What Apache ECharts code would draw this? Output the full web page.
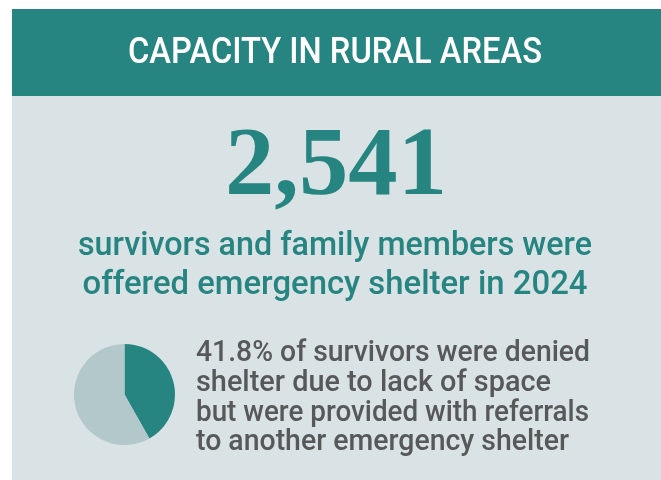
<!DOCTYPE html>
<html>
<head>
<meta charset="utf-8">
<script src="https://cdn.jsdelivr.net/npm/echarts@6/dist/echarts.min.js"></script>
<style>
  html, body { margin: 0; padding: 0; background: #ffffff; }
  #chart { width: 661px; height: 480px; }
</style>
</head>
<body>
<div id="chart"></div>
<script>
// Share of survivors denied shelter (with referral) vs. the rest
const sliceNames = ['Denied shelter, referred', 'Other survivors'];
const sliceValues = [41.8, 58.2];

const titleText = 'CAPACITY IN RURAL AREAS';
const headlineNumber = '2,541';
const subtitleLines = ['survivors and family members were', 'offered emergency shelter in 2024'];
const noteLines = [
  '41.8% of survivors were denied',
  'shelter due to lack of space',
  'but were provided with referrals',
  'to another emergency shelter'
];

const TEAL = '#268481';
const PANEL = '#d9e2e4';
const LIGHT = '#b2c8cb';
const GREY = '#57585a';
const SANS = 'Roboto, "Liberation Sans", sans-serif';
const SERIF = '"Liberation Serif", "DejaVu Serif", serif';

// Horizontal squeeze so a line of text spans a given width (condensed look)
const measureCtx = document.createElement('canvas').getContext('2d');
function squeeze(text, weight, size, family, width) {
  measureCtx.font = weight + ' ' + size + 'px ' + family;
  return width / measureCtx.measureText(text).width;
}

function textEl(text, opts) {
  const sx = squeeze(text, opts.weight, opts.size, opts.family, opts.width);
  return {
    type: 'text',
    x: opts.x,
    y: opts.y,
    scaleX: sx,
    z: 100,
    style: {
      text: text,
      fill: opts.color,
      font: opts.weight + ' ' + opts.size + 'px ' + opts.family,
      align: opts.align,
      verticalAlign: 'middle'
    }
  };
}

const chart = echarts.init(document.getElementById('chart'), null, { renderer: 'canvas' });

const graphics = [
  { type: 'rect', z: 0, shape: { x: 12, y: 9, width: 649, height: 87 }, style: { fill: TEAL } },
  { type: 'rect', z: 0, shape: { x: 12, y: 96, width: 649, height: 384 }, style: { fill: PANEL } },
  textEl(titleText, { x: 335, y: 54, weight: 500, size: 36, family: SANS, width: 414, color: '#ffffff', align: 'center' }),
  textEl(headlineNumber, { x: 336, y: 169, weight: 'bold', size: 97, family: SERIF, width: 222, color: TEAL, align: 'center' })
];

const subY = [247, 286];
const subW = [514, 505];
subtitleLines.forEach(function (line, i) {
  graphics.push(textEl(line, { x: 335, y: subY[i], weight: 500, size: 33, family: SANS, width: subW[i], color: TEAL, align: 'center' }));
});

const noteY = [354, 384, 414, 443];
const noteW = [394, 355, 393, 373];
noteLines.forEach(function (line, i) {
  graphics.push(textEl(line, { x: 196, y: noteY[i], weight: 500, size: 29, family: SANS, width: noteW[i], color: GREY, align: 'left' }));
});

chart.setOption({
  backgroundColor: '#ffffff',
  animation: false,
  graphic: graphics,
  series: [{
    type: 'pie',
    z: 10,
    center: [124.5, 394.5],
    radius: [0, 50.5],
    startAngle: 90,
    clockwise: true,
    silent: true,
    label: { show: false },
    labelLine: { show: false },
    itemStyle: { borderWidth: 0 },
    data: sliceNames.map(function (n, i) {
      return { name: n, value: sliceValues[i], itemStyle: { color: i === 0 ? TEAL : LIGHT } };
    })
  }]
});
</script>
</body>
</html>
